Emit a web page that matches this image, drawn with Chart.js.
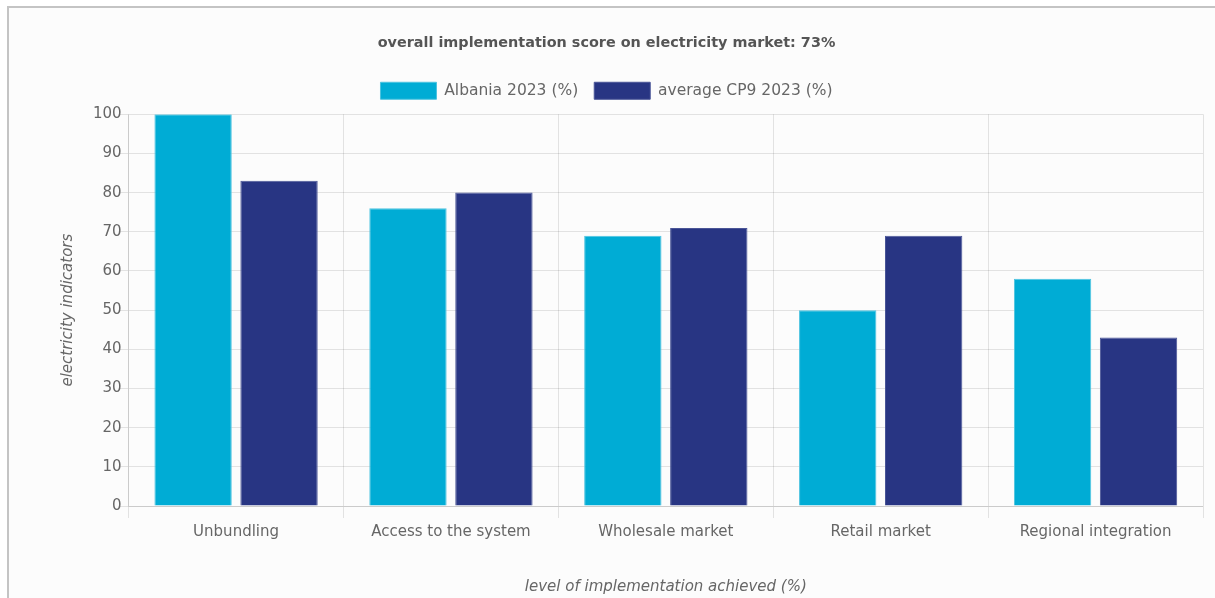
<!DOCTYPE html>
<html>
<head>
<meta charset="utf-8">
<script src="https://cdn.jsdelivr.net/npm/chart.js@4/dist/chart.umd.min.js"></script>
<style>
  html, body { margin: 0; padding: 0; background: #ffffff; overflow: hidden; }
  #frame {
    position: absolute; left: 7px; top: 6px; width: 1220px; height: 600px;
    border-top: 2px solid #c4c4c4; border-left: 2px solid #c4c4c4;
    background: #fcfcfc;
  }
  #wrap { position: absolute; left: 0; top: 0; width: 1197px; height: 590px; }
</style>
</head>
<body>
<div id="frame"><div id="wrap"><canvas id="c"></canvas></div></div>
<script>
const categories = ["Unbundling", "Access to the system", "Wholesale market", "Retail market", "Regional integration"];
const albania2023 = [100, 76, 69, 50, 58];
const averageCP9_2023 = [83, 80, 71, 69, 43];
const seriesLabels = ["Albania 2023 (%)", "average CP9 2023 (%)"];
const yTicks = [0, 10, 20, 30, 40, 50, 60, 70, 80, 90, 100];
const chartTitle = "overall implementation score on electricity market: 73%";
const yTitle = "electricity indicators";
const xTitle = "level of implementation achieved (%)";

Chart.defaults.font.family = "'DejaVu Sans', sans-serif";
Chart.defaults.color = "#666";

const legendMargin = {
  id: 'legendMargin',
  beforeInit(chart) {
    const fit = chart.legend.fit;
    chart.legend.fit = function () { fit.bind(chart.legend)(); this.height += 5; };
  }
};

new Chart(document.getElementById('c'), {
  type: 'bar',
  data: {
    labels: categories,
    datasets: [
      { label: seriesLabels[0], data: albania2023, backgroundColor: '#00acd5', borderColor: '#4cc3e0', borderWidth: 1 },
      { label: seriesLabels[1], data: averageCP9_2023, backgroundColor: '#283583', borderColor: '#4a5597', borderWidth: 1 }
    ]
  },
  plugins: [legendMargin],
  options: {
    responsive: true,
    maintainAspectRatio: false,
    animation: false,
    layout: { padding: { left: 1, right: 3, top: 23, bottom: 2 } },
    plugins: {
      title: {
        display: true, text: chartTitle, color: '#555',
        font: { size: 14.4, weight: 'bold' }, padding: { top: 4, bottom: 14 }
      },
      legend: {
        position: 'top',
        labels: { boxWidth: 56, boxHeight: 17, font: { size: 15.5 }, color: '#666', padding: 16 }
      },
      tooltip: { enabled: false }
    },
    scales: {
      x: {
        grid: { color: 'rgba(0,0,0,0.1)', offset: true, tickLength: 12 },
        ticks: { font: { size: 15 }, color: '#666', padding: 5 },
        title: { display: true, text: xTitle, font: { size: 15, style: 'italic' }, color: '#666', padding: { top: 32, bottom: 0 } }
      },
      y: {
        min: 0, max: 100,
        afterBuildTicks: (axis) => { axis.ticks = yTicks.map(v => ({ value: v })); },
        grid: { color: 'rgba(0,0,0,0.1)', tickLength: 10 },
        ticks: { font: { size: 15 }, color: '#666', padding: -3 },
        title: { display: true, text: yTitle, font: { size: 15, style: 'italic' }, color: '#666', padding: { top: 49, bottom: 19 } }
      }
    }
  }
});
</script>
</body>
</html>
